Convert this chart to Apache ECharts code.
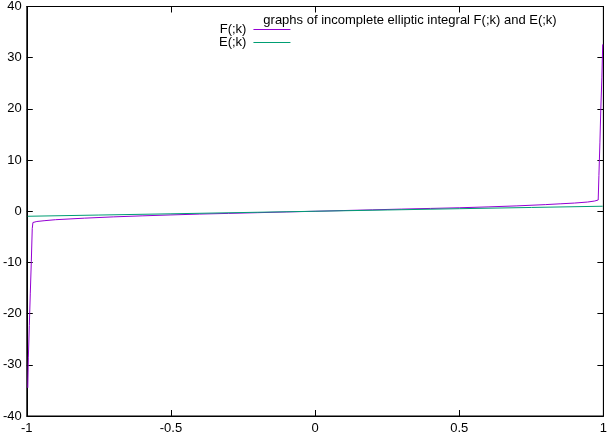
<!DOCTYPE html>
<html>
<head>
<meta charset="utf-8">
<script src="https://cdn.jsdelivr.net/npm/echarts@6/dist/echarts.min.js"></script>
<style>
html,body{margin:0;padding:0;background:#fff;}
#chart{width:610px;height:435px;}
</style>
</head>
<body>
<div id="chart"></div>
<script>
// Data
const fX = [-0.9965, -0.9945, -0.9912, -0.9878, -0.9843, -0.9811, -0.9787, -0.965, -0.94, -0.90, -0.85, -0.80, -0.70, -0.60, -0.50, -0.40, -0.30, -0.20, -0.10, 0, 0.10, 0.20, 0.30, 0.40, 0.50, 0.60, 0.70, 0.80, 0.85, 0.90, 0.945, 0.97, 0.982, 0.9845, 0.988, 0.991, 0.9948, 0.9976];
const fY = [-34.5, -28.5, -22.3, -16.0, -9.8, -3.4, -2.2, -2.0, -1.85, -1.65, -1.5, -1.35, -1.1, -0.9, -0.72, -0.55, -0.42, -0.28, -0.14, 0, 0.14, 0.28, 0.42, 0.55, 0.68, 0.85, 1.05, 1.3, 1.45, 1.6, 1.8, 2.0, 2.2, 7.0, 13.5, 19.8, 26.2, 32.6];
const eX = [-0.9972, -0.75, -0.5, -0.25, 0, 0.25, 0.5, 0.75, 0.9976];
const eY = [-0.98, -0.74, -0.5, -0.25, 0, 0.25, 0.5, 0.74, 0.98];
const xTicks = [-1, -0.5, 0, 0.5, 1];
const yTicks = [-40, -30, -20, -10, 0, 10, 20, 30, 40];
const seriesNames = ['F(;k)', 'E(;k)'];
const titleText = 'graphs of incomplete elliptic integral F(;k) and E(;k)';

const font = 'Liberation Sans, Arial, sans-serif';
const fs = 13;
const pair = (xs, ys) => xs.map((x, i) => [x, ys[i]]);

const chart = echarts.init(document.getElementById('chart'), null, {renderer: 'canvas'});
const axisCommon = {
  type: 'value',
  axisLine: {show: true, onZero: false, lineStyle: {color: '#000', width: 1}},
  axisTick: {show: true, inside: true, length: 6, lineStyle: {color: '#000', width: 1}},
  splitLine: {show: false}
};
chart.setOption({
  animation: false,
  backgroundColor: '#fff',
  grid: {left: 25, right: 4, top: 5, bottom: 19, show: true, borderColor: '#000', borderWidth: 1},
  title: {
    text: titleText, left: 405, top: 9, textAlign: 'center',
    textStyle: {fontFamily: font, fontSize: fs, fontWeight: 'normal', color: '#000'}
  },
  legend: {
    orient: 'vertical', left: 214, top: 18, align: 'right',
    itemWidth: 37, itemHeight: 1, itemGap: 0, icon: 'rect',
    data: seriesNames,
    textStyle: {fontFamily: font, fontSize: fs, color: '#000', lineHeight: 13, padding: [0, 2, 0, 0]}
  },
  xAxis: [
    Object.assign({}, axisCommon, {
      min: xTicks[0], max: xTicks[xTicks.length - 1], interval: 0.5, position: 'bottom',
      axisLabel: {fontFamily: font, fontSize: fs, color: '#000', margin: 6}
    }),
    Object.assign({}, axisCommon, {
      min: xTicks[0], max: xTicks[xTicks.length - 1], interval: 0.5, position: 'top',
      axisLabel: {show: false}
    })
  ],
  yAxis: [
    Object.assign({}, axisCommon, {
      min: yTicks[0], max: yTicks[yTicks.length - 1], interval: 10, position: 'left',
      axisLabel: {fontFamily: font, fontSize: fs, color: '#000', margin: 5}
    }),
    Object.assign({}, axisCommon, {
      min: yTicks[0], max: yTicks[yTicks.length - 1], interval: 10, position: 'right',
      axisLabel: {show: false}
    })
  ],
  series: [
    {name: seriesNames[0], type: 'line', data: pair(fX, fY), showSymbol: false, symbol: 'none',
     lineStyle: {color: '#9400d3', width: 1}, itemStyle: {color: '#9400d3'}},
    {name: seriesNames[1], type: 'line', data: pair(eX, eY), showSymbol: false, symbol: 'none',
     lineStyle: {color: '#009e73', width: 1}, itemStyle: {color: '#009e73'}}
  ]
});
</script>
</body>
</html>
